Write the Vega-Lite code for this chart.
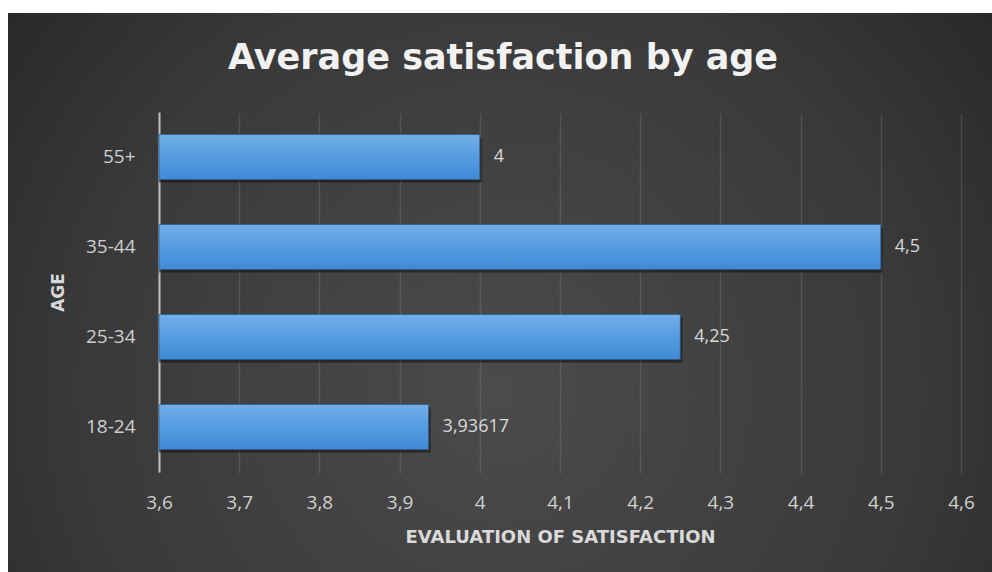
{
  "$schema": "https://vega.github.io/schema/vega-lite/v6.json",
  "autosize": "none",
  "width": 984,
  "height": 559,
  "padding": {"left": 8, "top": 13, "right": 0, "bottom": 0},
  "background": "#ffffff",
  "config": {
    "locale": {
      "number": {"decimal": ",", "thousands": ".", "grouping": [3], "currency": ["", " €"]}
    },
    "view": {
      "stroke": null,
      "fill": {
        "gradient": "radial",
        "x1": 0.5, "y1": 0.6, "r1": 0,
        "x2": 0.5, "y2": 0.6, "r2": 0.78,
        "stops": [
          {"offset": 0, "color": "#4b4b4b"},
          {"offset": 0.55, "color": "#393939"},
          {"offset": 1, "color": "#1d1d1d"}
        ]
      }
    },
    "font": "Open Sans"
  },
  "title": {
    "text": "Average satisfaction by age",
    "font": "DejaVu Sans",
    "fontSize": 35,
    "fontWeight": "bold",
    "color": "#f2f2f2",
    "anchor": "middle",
    "frame": "group",
    "baseline": "alphabetic",
    "dx": 3,
    "offset": -91
  },
  "data": {
    "values": [
      {"age": "55+", "satisfaction": 4},
      {"age": "35-44", "satisfaction": 4.5},
      {"age": "25-34", "satisfaction": 4.25},
      {"age": "18-24", "satisfaction": 3.93617}
    ]
  },
  "encoding": {
    "y": {
      "field": "age",
      "type": "nominal",
      "sort": ["55+", "35-44", "25-34", "18-24"],
      "scale": {"range": [99, 459], "paddingInner": 0.5, "paddingOuter": 0.25},
      "axis": {
        "offset": -151,
        "title": "AGE",
        "titleFont": "DejaVu Sans",
        "titleFontSize": 17,
        "titleFontWeight": "bold",
        "titleColor": "#d9d9d9",
        "titlePadding": 18,
        "labelFont": "Open Sans",
        "labelFontSize": 19,
        "labelColor": "#d0d0d0",
        "labelPadding": 24,
        "ticks": false,
        "domain": true,
        "domainColor": "#bfbfbf",
        "domainWidth": 2,
        "grid": false
      }
    }
  },
  "layer": [
    {
      "mark": {"type": "bar", "color": "#101010", "opacity": 0.55, "yOffset": 3, "xOffset": 2},
      "encoding": {
        "x": {"field": "satisfaction", "type": "quantitative"},
        "x2": {"datum": 3.6}
      }
    },
    {
      "mark": {
        "type": "bar",
        "color": {
          "gradient": "linear",
          "x1": 0, "y1": 0, "x2": 0, "y2": 1,
          "stops": [
            {"offset": 0, "color": "#74afe8"},
            {"offset": 0.5, "color": "#559ce1"},
            {"offset": 1, "color": "#4089d4"}
          ]
        },
        "stroke": "#2a5d8f",
        "strokeWidth": 0.8
      },
      "encoding": {
        "x": {
          "field": "satisfaction",
          "type": "quantitative",
          "scale": {"domain": [3.6, 4.6], "range": [151, 953], "zero": false, "nice": false},
          "axis": {
            "offset": -100,
            "title": "EVALUATION OF SATISFACTION",
            "titleFont": "DejaVu Sans",
            "titleFontSize": 18,
            "titleFontWeight": "bold",
            "titleColor": "#d9d9d9",
            "titlePadding": 16,
            "values": [3.6, 3.7, 3.8, 3.9, 4.0, 4.1, 4.2, 4.3, 4.4, 4.5, 4.6],
            "format": ".1~f",
            "labelFont": "Open Sans",
            "labelFontSize": 19,
            "labelColor": "#d0d0d0",
            "labelPadding": 21,
            "labelFlush": false,
            "ticks": false,
            "domain": false,
            "grid": true,
            "gridColor": "#c8c8c8",
            "gridOpacity": 0.16,
            "gridWidth": 1.5
          }
        },
        "x2": {"datum": 3.6}
      }
    },
    {
      "mark": {
        "type": "text",
        "align": "left",
        "baseline": "middle",
        "dx": 14,
        "font": "Open Sans",
        "fontSize": 18,
        "letterSpacing": 2,
        "color": "#d9d9d9"
      },
      "encoding": {
        "x": {"field": "satisfaction", "type": "quantitative"},
        "text": {"field": "satisfaction", "type": "quantitative", "format": "~g"}
      }
    }
  ]
}
